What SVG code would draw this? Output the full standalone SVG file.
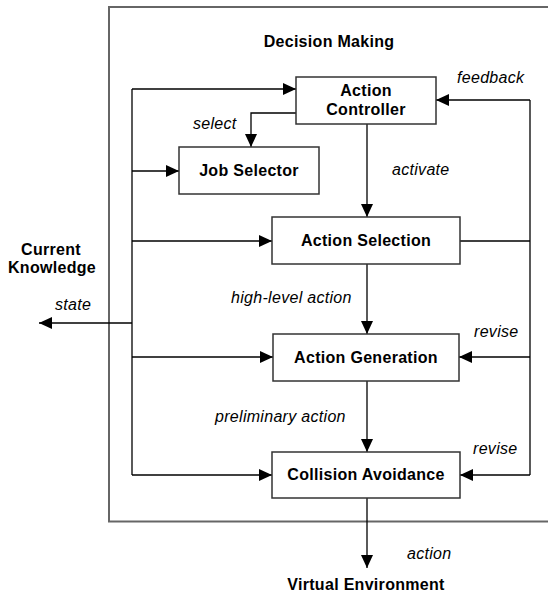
<svg xmlns="http://www.w3.org/2000/svg" width="548" height="597" viewBox="0 0 548 597">
<style>
.box{fill:#fff;stroke:#333;stroke-width:1.5}
.frame{fill:none;stroke:#666;stroke-width:2}
.ln{fill:none;stroke:#000;stroke-width:1.3}
.arr{marker-end:url(#ah)}
.b{font-family:"Liberation Sans",Arial,sans-serif;font-weight:bold;font-size:16px;letter-spacing:0.3px;fill:#000;text-anchor:middle}
.i{font-family:"Liberation Sans",Arial,sans-serif;font-style:italic;font-size:16px;letter-spacing:0.3px;fill:#000}
</style>
<defs>
<marker id="ah" markerUnits="userSpaceOnUse" markerWidth="14" markerHeight="13" refX="13" refY="6" orient="auto">
<path d="M0,0 L13,6 L0,12 z" fill="#000"/>
</marker>
</defs>
<rect id="frame" class="frame" x="109" y="7" width="460" height="514.5"/>
<text class="b" x="329" y="47">Decision Making</text>
<g id="connectors">
<path class="ln" d="M132,89 V475"/>
<path class="ln arr" d="M132,89 H296"/>
<path class="ln arr" d="M132,171 H179"/>
<path class="ln arr" d="M132,241 H272"/>
<path class="ln arr" d="M132,357 H273"/>
<path class="ln arr" d="M132,475 H272"/>
<path class="ln arr" d="M132,323 H39"/>
<path class="ln arr" d="M296,113 H251 V147"/>
<path class="ln arr" d="M367,124 V217"/>
<path class="ln arr" d="M367,264 V334"/>
<path class="ln arr" d="M367,381 V452"/>
<path class="ln arr" d="M367,498 V568"/>
<path class="ln" d="M460,241 H530"/>
<path class="ln" d="M530,100 V475"/>
<path class="ln arr" d="M530,100 H436"/>
<path class="ln arr" d="M530,357 H459"/>
<path class="ln arr" d="M530,475 H460"/>
</g>
<g id="action-controller">
<rect class="box" x="296" y="77" width="140" height="47"/>
<text class="b" x="366" y="96">Action</text>
<text class="b" x="366" y="115">Controller</text>
</g>
<g id="job-selector">
<rect class="box" x="179" y="147" width="140" height="47"/>
<text class="b" x="249" y="176">Job Selector</text>
</g>
<g id="action-selection">
<rect class="box" x="272" y="217" width="188" height="47"/>
<text class="b" x="366" y="246">Action Selection</text>
</g>
<g id="action-generation">
<rect class="box" x="273" y="334" width="186" height="47"/>
<text class="b" x="366" y="363">Action Generation</text>
</g>
<g id="collision-avoidance">
<rect class="box" x="272" y="452" width="188" height="46"/>
<text class="b" x="366" y="480">Collision Avoidance</text>
</g>
<g id="current-knowledge">
<text class="b" x="51" y="255">Current</text>
<text class="b" x="52" y="273">Knowledge</text>
</g>
<g id="virtual-environment">
<text class="b" x="366" y="590">Virtual Environment</text>
</g>
<g id="labels">
<text class="i" x="193" y="129">select</text>
<text class="i" x="457" y="83">feedback</text>
<text class="i" x="392" y="175">activate</text>
<text class="i" x="55" y="310">state</text>
<text class="i" x="231" y="303">high-level action</text>
<text class="i" x="474" y="337">revise</text>
<text class="i" x="215" y="422">preliminary action</text>
<text class="i" x="473" y="454">revise</text>
<text class="i" x="407" y="559">action</text>
</g>
</svg>
